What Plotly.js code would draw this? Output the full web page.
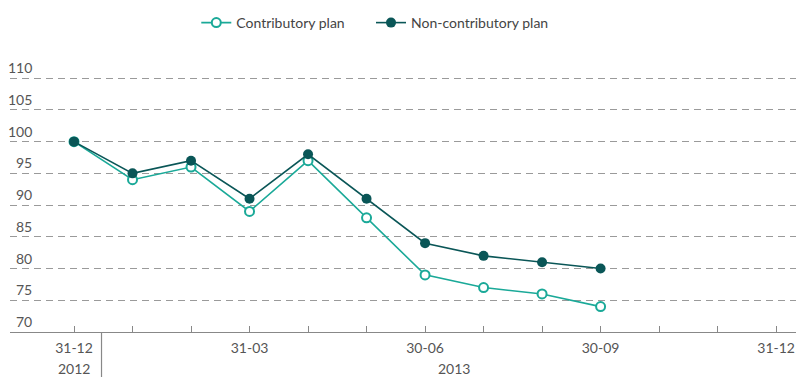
<!DOCTYPE html>
<html>
<head>
<meta charset="utf-8">
<script src="https://cdn.plot.ly/plotly-3.0.1.min.js"></script>
<style>html,body{margin:0;padding:0;background:#fff;}#chart{width:796px;height:377px;}</style>
</head>
<body>
<div id="chart"></div>
<script>
// Month-end periods (one per tick)
const periods = ['31-12','31-01','28-02','31-03','30-04','31-05','30-06','31-07','31-08','30-09','31-10','30-11','31-12'];
const labelledIdx = [0, 3, 6, 9, 12];
const years = ['2012', '2013'];
const yearPos = [0, 6.5];
const yearDivider = 0.47;

const contributory = [100, 94, 96, 89, 97, 88, 79, 77, 76, 74];
const nonContributory = [100, 95, 97, 91, 98, 91, 84, 82, 81, 80];

const yTicks = [70, 75, 80, 85, 90, 95, 100, 105, 110];

const xIdx = contributory.map((_, i) => i);
const tickvals = periods.map((_, i) => i);
const ticktext = periods.map((p, i) => labelledIdx.includes(i) ? p : '');

const FONT = 'Lato, "Open Sans", sans-serif';

const traces = [
  {
    x: xIdx, y: contributory, name: 'Contributory plan', type: 'scatter', mode: 'lines+markers',
    legend: 'legend',
    line: {color: '#1aa998', width: 1.6},
    marker: {symbol: 'circle', size: 9, color: '#ffffff', line: {color: '#1aa998', width: 2}}
  },
  {
    x: xIdx, y: nonContributory, name: 'Non-contributory plan', type: 'scatter', mode: 'lines+markers',
    legend: 'legend2',
    line: {color: '#0a5657', width: 1.6},
    marker: {symbol: 'circle', size: 10, color: '#0a5657'}
  }
];

const annotations = yTicks.map(v => ({
  x: 24 / 786, xref: 'paper', xanchor: 'right', y: v, yref: 'y', yanchor: 'bottom',
  text: String(v), showarrow: false, font: {family: FONT, size: 14, color: '#555'},
  yshift: 0
}));
years.forEach((yr, i) => annotations.push({
  x: yearPos[i], xref: 'x', y: 0, yref: 'paper', yshift: -36, yanchor: 'middle',
  text: yr, showarrow: false, font: {family: FONT, size: 14, color: '#555'}
}));

const legendBase = {orientation: 'h', xanchor: 'left', y: 1.2023, yanchor: 'middle',
  font: {family: FONT, size: 14, color: '#444'}, itemwidth: 30, bgcolor: 'rgba(0,0,0,0)'};

const layout = {
  width: 796, height: 377,
  margin: {l: 10, r: 0, t: 75, b: 45},
  paper_bgcolor: '#fff', plot_bgcolor: '#fff',
  font: {family: FONT, size: 14, color: '#555'},
  showlegend: true,
  legend: Object.assign({}, legendBase, {x: 0.237}),
  legend2: Object.assign({}, legendBase, {x: 0.4593}),
  xaxis: {
    range: [-1.094, 12.34], tickmode: 'array', tickvals: tickvals, ticktext: ticktext,
    ticks: 'inside', ticklen: 6, tickcolor: '#888', tickwidth: 1, ticklabelstandoff: 3,
    showline: true, linecolor: '#888', linewidth: 1.2,
    showgrid: false, zeroline: false, fixedrange: true,
    tickfont: {family: FONT, size: 14, color: '#555'}
  },
  yaxis: {
    range: [70, 110.5], tickmode: 'array', tickvals: yTicks, showticklabels: false,
    showgrid: true, gridcolor: '#9a9a9a', gridwidth: 1, griddash: '7px,5px',
    zeroline: false, showline: false, ticks: '', fixedrange: true
  },
  shapes: [
    {type: 'line', xref: 'x', yref: 'paper', x0: yearDivider, x1: yearDivider, y0: 0, y1: -0.18,
     line: {color: '#888', width: 1.2}}
  ],
  annotations: annotations
};

Plotly.newPlot('chart', traces, layout, {displayModeBar: false, staticPlot: true});
</script>
</body>
</html>
